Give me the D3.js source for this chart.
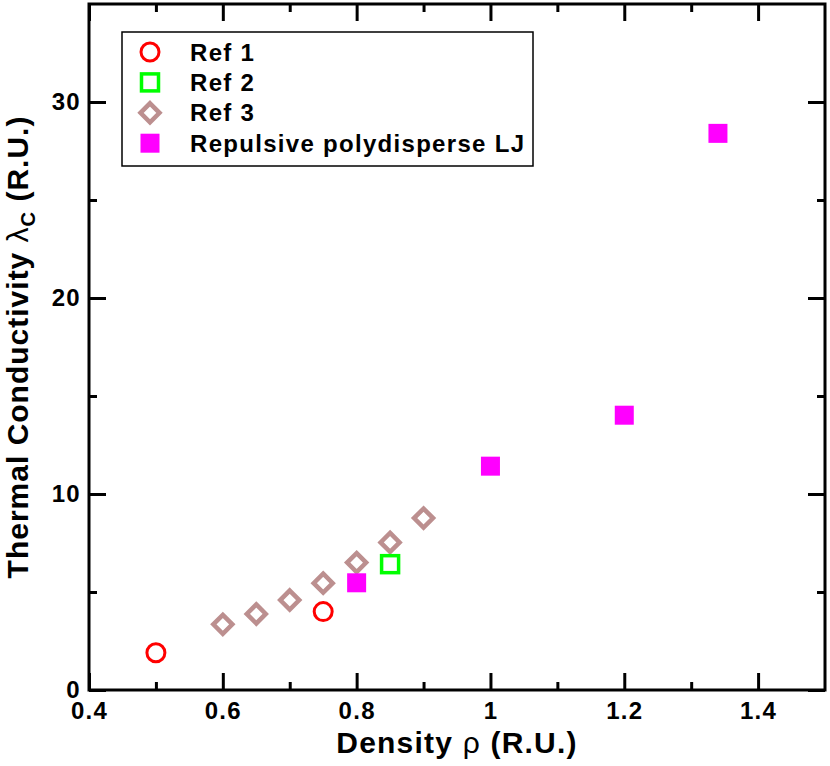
<!DOCTYPE html>
<html lang="en">
<head>
  <meta charset="UTF-8">
  <title>Thermal conductivity vs density</title>
  <script src="https://d3js.org/d3.v7.min.js"></script>
  <style>
    body { margin: 0; background: #fff; }
    svg { display: block; font-family: "Liberation Sans", Arial, sans-serif; }
  </style>
</head>
<body>
  <svg width="830" height="766"></svg>

  <script>
    const width = 830;
    const height = 766;
    const margin = { top: 4, right: 5, bottom: 76, left: 89 };

    // data
    const ref1X = [0.5, 0.75];
    const ref1Y = [1.9, 4.0];
    const ref2X = [0.85];
    const ref2Y = [6.42];
    const ref3X = [0.6, 0.65, 0.7, 0.75, 0.8, 0.85, 0.9];
    const ref3Y = [3.35, 3.88, 4.59, 5.45, 6.5, 7.53, 8.77];
    const ljX = [0.8, 1.0, 1.2, 1.34];
    const ljY = [5.47, 11.42, 14.02, 28.4];

    const xMajor = [0.4, 0.6, 0.8, 1.0, 1.2, 1.4];
    const xMinor = [0.5, 0.7, 0.9, 1.1, 1.3];
    const yMajor = [0, 10, 20, 30];
    const yMinor = [5, 15, 25];

    const legendLabels = ["Ref 1", "Ref 2", "Ref 3", "Repulsive polydisperse LJ"];

    const svg = d3.select("svg");

    const xScale = d3.scaleLinear()
      .domain([0.4, 1.5])
      .range([margin.left, width - margin.right]);

    const yScale = d3.scaleLinear()
      .domain([0, 35])
      .range([height - margin.bottom, margin.top]);

    const x0 = xScale.range()[0], x1 = xScale.range()[1];
    const y0 = yScale.range()[0], y1 = yScale.range()[1];

    function styleAxis(g) {
      g.select(".domain").remove();
      g.selectAll("line").attr("stroke", "#000").attr("stroke-width", 3);
      g.selectAll("text")
        .attr("font-size", 24)
        .attr("font-weight", "bold")
        .attr("letter-spacing", 1.3)
        .attr("fill", "#000")
        .attr("font-family", "'Liberation Sans', Arial, sans-serif");
    }

    // bottom
    svg.append("g").attr("transform", `translate(0,${y0})`)
      .call(d3.axisBottom(xScale).tickValues(xMajor).tickSize(-17).tickPadding(12)
        .tickFormat(d => d === 1 ? "1" : d3.format(".1f")(d)))
      .call(styleAxis);
    svg.append("g").attr("transform", `translate(0,${y0})`)
      .call(d3.axisBottom(xScale).tickValues(xMinor).tickSize(-8).tickFormat(""))
      .call(styleAxis);
    // top
    svg.append("g").attr("transform", `translate(0,${y1})`)
      .call(d3.axisTop(xScale).tickValues(xMajor).tickSize(-17).tickFormat(""))
      .call(styleAxis);
    svg.append("g").attr("transform", `translate(0,${y1})`)
      .call(d3.axisTop(xScale).tickValues(xMinor).tickSize(-8).tickFormat(""))
      .call(styleAxis);
    // left
    svg.append("g").attr("transform", `translate(${x0},0)`)
      .call(d3.axisLeft(yScale).tickValues(yMajor).tickSize(-17).tickPadding(8))
      .call(styleAxis);
    svg.append("g").attr("transform", `translate(${x0},0)`)
      .call(d3.axisLeft(yScale).tickValues(yMinor).tickSize(-8).tickFormat(""))
      .call(styleAxis);
    // right
    svg.append("g").attr("transform", `translate(${x1},0)`)
      .call(d3.axisRight(yScale).tickValues(yMajor).tickSize(-17).tickFormat(""))
      .call(styleAxis);
    svg.append("g").attr("transform", `translate(${x1},0)`)
      .call(d3.axisRight(yScale).tickValues(yMinor).tickSize(-8).tickFormat(""))
      .call(styleAxis);

    // frame
    svg.append("rect")
      .attr("x", x0).attr("y", y1)
      .attr("width", x1 - x0).attr("height", y0 - y1)
      .attr("fill", "none").attr("stroke", "#000").attr("stroke-width", 3);

    // markers
    const markers = [
      { name: "ref1", draw: (g) => g.append("circle").attr("r", 9).attr("fill", "none").attr("stroke", "#ff0000").attr("stroke-width", 3) },
      { name: "ref2", draw: (g) => g.append("rect").attr("x", -8.5).attr("y", -8.5).attr("width", 17).attr("height", 17).attr("fill", "none").attr("stroke", "#00ff00").attr("stroke-width", 3.5) },
      { name: "ref3", draw: (g) => g.append("path").attr("d", "M0,-9.5L9.5,0L0,9.5L-9.5,0Z").attr("fill", "none").attr("stroke", "#bc8f8f").attr("stroke-width", 4.5) },
      { name: "lj", draw: (g) => g.append("rect").attr("x", -9.5).attr("y", -9.5).attr("width", 19).attr("height", 19).attr("fill", "#ff00ff") }
    ];

    const seriesX = [ref1X, ref2X, ref3X, ljX];
    const seriesY = [ref1Y, ref2Y, ref3Y, ljY];

    // draw Ref 3 first so the others sit on top
    [2, 0, 1, 3].forEach(i => {
      const pts = seriesX[i].map((v, j) => [v, seriesY[i][j]]);
      svg.append("g").selectAll("g").data(pts).join("g")
        .attr("transform", d => `translate(${xScale(d[0])},${yScale(d[1])})`)
        .each(function () { markers[i].draw(d3.select(this)); });
    });

    // legend
    const legend = svg.append("g");
    legend.append("rect")
      .attr("x", 122).attr("y", 32).attr("width", 411).attr("height", 134)
      .attr("fill", "#fff").attr("stroke", "#000").attr("stroke-width", 1.5);
    legendLabels.forEach((lab, i) => {
      const cy = 52 + i * 30.4;
      const g = legend.append("g").attr("transform", `translate(150,${cy})`);
      markers[i].draw(g);
      legend.append("text")
        .attr("x", 190).attr("y", cy).attr("dy", "0.36em")
        .attr("font-size", 24).attr("font-weight", "bold")
        .attr("letter-spacing", 1.3)
        .text(lab);
    });

    // axis titles
    const xt = svg.append("text")
      .attr("x", (x0 + x1) / 2).attr("y", 753)
      .attr("text-anchor", "middle")
      .attr("font-size", 30).attr("font-weight", "bold")
      .attr("letter-spacing", 1.2);
    xt.append("tspan").text("Density ");
    xt.append("tspan").attr("font-weight", "normal").text("ρ");
    xt.append("tspan").text(" (R.U.)");

    const yt = svg.append("text")
      .attr("transform", `translate(28,${(y0 + y1) / 2}) rotate(-90)`)
      .attr("text-anchor", "middle")
      .attr("font-size", 30).attr("font-weight", "bold")
      .attr("letter-spacing", 1);
    yt.append("tspan").text("Thermal Conductivity ");
    yt.append("tspan").attr("font-weight", "normal").text("λ");
    yt.append("tspan").attr("font-size", 20).attr("dy", 7).text("C");
    yt.append("tspan").attr("dy", -7).text(" (R.U.)");
  </script>
</body>
</html>
